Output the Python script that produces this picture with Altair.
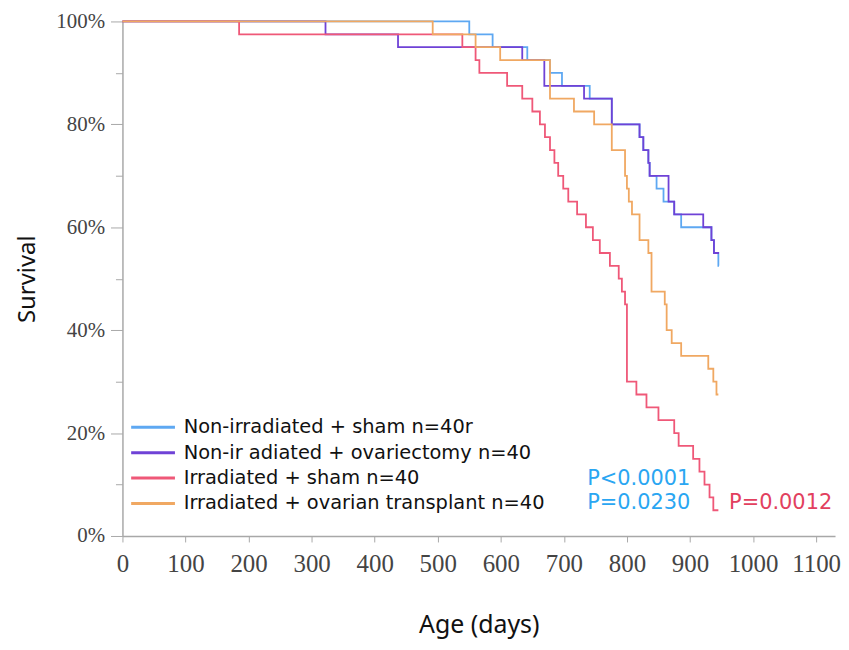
import altair as alt
import pandas as pd

# ---------------- data ----------------
groups = [
    "Non-irradiated + sham n=40r",
    "Non-ir adiated + ovariectomy n=40",
    "Irradiated + sham n=40",
    "Irradiated + ovarian transplant n=40",
]
colors = ["#5ea8f2", "#6f42d6", "#ef5878", "#f0a862"]

blue_days = [0, 550, 587, 642, 678, 697, 741, 776, 820, 826, 834, 836, 847, 858, 875, 886, 934, 938, 945, 946]
blue_surv = [100, 97.5, 95, 92.5, 90, 87.5, 85, 80, 77.5, 75, 72.5, 70, 67.5, 65, 62.5, 60, 57.5, 55, 52.5, 52.5]

purple_days = [0, 322, 437, 634, 669, 732, 776, 820, 826, 834, 836, 866, 875, 921, 934, 938, 946]
purple_surv = [100, 97.5, 95, 92.5, 87.5, 85, 80, 77.5, 75, 72.5, 70, 65, 62.5, 60, 57.5, 55, 55]

red_days = [0, 185, 539, 560, 566, 610, 634, 650, 662, 670, 678, 685, 691, 699, 707, 721, 735, 746, 757,
            773, 787, 792, 797, 800, 815, 831, 850, 875, 882, 905, 915, 923, 931, 937, 945]
red_surv = [100, 97.5, 95, 92.5, 90, 87.5, 85, 82.5, 80, 77.5, 75, 72.5, 70, 67.5, 65, 62.5, 60, 57.5, 55,
            52.5, 50, 47.5, 45, 30, 27.5, 25, 22.5, 20, 17.5, 15, 12.5, 10, 7.5, 5, 5]

orange_days = [0, 492, 560, 599, 678, 716, 748, 776, 797, 800, 803, 808, 820, 834, 839, 860, 863, 871, 886,
               929, 937, 942, 945]
orange_surv = [100, 97.5, 95, 92.5, 85, 82.5, 80, 75, 70, 67.5, 65, 62.5, 57.5, 55, 47.5, 45, 40, 37.5, 35,
               32.5, 30, 27.5, 27.5]

p_texts = ["P<0.0001", "P=0.0230", "P=0.0012"]
p_days = [737, 737, 962]
p_surv = [11.0, 6.4, 6.4]
p_colors = ["#2aa6f2", "#2aa6f2", "#e2405e"]

x_ticks = list(range(0, 1101, 50))
y_ticks = [i / 10 for i in range(0, 11)]

# ---------------- tables ----------------
rows = []
for g, dd, ss in zip(groups, [blue_days, purple_days, red_days, orange_days],
                     [blue_surv, purple_surv, red_surv, orange_surv]):
    for d, s in zip(dd, ss):
        rows.append({"group": g, "day": d, "survival": s / 100})
df = pd.DataFrame(rows)

pdf = pd.DataFrame({"text": p_texts, "day": p_days, "survival": [v / 100 for v in p_surv], "col": p_colors})

x_scale = alt.Scale(domain=[0, 1130], nice=False)
y_scale = alt.Scale(domain=[0, 1], nice=False)
color_scale = alt.Scale(domain=groups, range=colors)

x_axis = alt.Axis(
    values=x_ticks,
    labelExpr="datum.value % 100 === 0 ? '' + datum.value : ''",
    labelFlush=False,
    title="Age (days)",
    titleFont="Noto Sans", titleFontSize=25, titleFontWeight="normal", titleColor="#111",
    titlePadding=36,
    labelFont="Liberation Serif", labelFontSize=25, labelColor="#444",
    tickSize=6, labelPadding=10,
    domainColor="#a8a8a8", tickColor="#a8a8a8", domainWidth=1.5, grid=False,
)
y_axis = alt.Axis(
    values=y_ticks,
    labelExpr="round(datum.value * 100) % 20 === 0 ? format(datum.value, '.0%') : ''",
    labelFlush=False,
    title="Survival",
    titleFont="Noto Sans", titleFontSize=24, titleFontWeight="normal", titleColor="#111",
    titlePadding=16,
    labelFont="Liberation Serif", labelFontSize=21, labelColor="#444",
    tickSize={"condition": {"test": "round(datum.value * 100) % 20 === 0", "value": 12}, "value": 7},
    labelPadding=6,
    domainColor="#a8a8a8", tickColor="#a8a8a8", domainWidth=1.5, grid=False,
)

legend = alt.Legend(
    title=None, orient="none", legendX=21, legendY=398,
    labelFont="DejaVu Sans", labelFontSize=19.5, labelColor="#111",
    symbolType="M-4,0H4", symbolSize=121, symbolStrokeWidth=3,
    labelOffset=21, rowPadding=4.5, padding=0, labelLimit=600,
)

layers = []
for g in groups:
    layers.append(
        alt.Chart(df).transform_filter(alt.datum.group == g)
        .mark_line(interpolate="step-after", strokeWidth=1.8)
        .encode(
            x=alt.X("day:Q", scale=x_scale, axis=x_axis),
            y=alt.Y("survival:Q", scale=y_scale, axis=y_axis),
            color=alt.Color("group:N", scale=color_scale, legend=legend),
        )
    )

ptext = alt.Chart(pdf).mark_text(align="left", baseline="middle", font="DejaVu Sans", fontSize=21).encode(
    x=alt.X("day:Q", scale=x_scale),
    y=alt.Y("survival:Q", scale=y_scale),
    text="text:N",
    color=alt.Color("col:N", scale=None),
)

chart = alt.layer(*layers, ptext).properties(
    width=716, height=517,
    padding={"left": 115, "top": 12, "right": 6, "bottom": 104},
    autosize=alt.AutoSizeParams(type="none"),
    background="white",
).configure_view(stroke=None)

chart.save("out.html", embed_options={"renderer": "svg", "actions": False})
